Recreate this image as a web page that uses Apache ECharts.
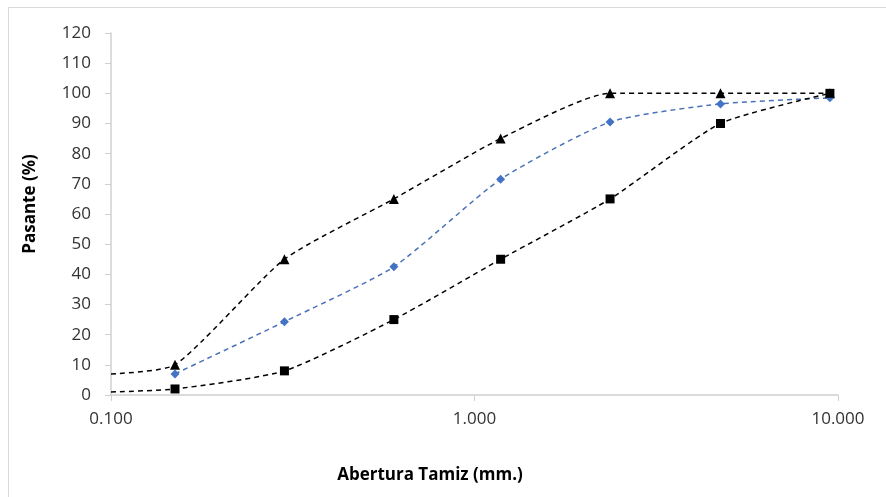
<!DOCTYPE html>
<html>
<head>
<meta charset="utf-8">
<script src="https://cdn.jsdelivr.net/npm/echarts@6/dist/echarts.min.js"></script>
<style>
  html, body { margin: 0; padding: 0; background: #fff; overflow: hidden; }
  #frame { position: absolute; left: 8px; top: 7px; width: 900px; height: 500px; border: 1px solid #d9d9d9; box-sizing: border-box; }
  #chart { position: absolute; left: 0; top: 0; width: 886px; height: 497px; }
</style>
</head>
<body>
<div id="frame"></div>
<div id="chart"></div>
<script>
// tamices (mm) y porcentajes que pasan
const sieves = [0.15, 0.3, 0.6, 1.18, 2.36, 4.75, 9.5]
const upperLimit = [10, 45, 65, 85, 100, 100, 100]
const sample = [7, 24.3, 42.5, 71.5, 90.5, 96.5, 98.5]
const lowerLimit = [2, 8, 25, 45, 65, 90, 100]
// donde las curvas cortan el borde izquierdo (x = 0.1)
const upperEdge = 7
const lowerEdge = 1

function pairs(xs, ys, edge) {
  const out = xs.map((x, i) => [x, ys[i]])
  if (edge !== undefined) out.unshift({ value: [0.1, edge], symbol: 'none' })
  return out
}

const chart = echarts.init(document.getElementById('chart'))
const axisLabel = { color: '#333', fontSize: 17, fontFamily: 'Open Sans' }
const nameFont = { fill: '#000', fontSize: 17, fontWeight: 'bold', fontFamily: 'Open Sans' }
const dashed = (c) => ({ color: c, width: 1.5, type: [5, 4] })

chart.setOption({
  animation: false,
  grid: { left: 111, right: 48, top: 33, bottom: 102 },
  graphic: [
    {
      type: 'text', x: 430, y: 475,
      style: Object.assign({ text: 'Abertura Tamiz (mm.)', align: 'center', verticalAlign: 'middle' }, nameFont)
    },
    {
      type: 'text', x: 30, y: 204, rotation: Math.PI / 2,
      style: Object.assign({ text: 'Pasante (%)', align: 'center', verticalAlign: 'middle' }, nameFont)
    }
  ],
  xAxis: {
    type: 'log',
    logBase: 10,
    min: 0.1,
    max: 10,
    axisLine: { lineStyle: { color: '#d0d0d0', width: 1.5 } },
    axisTick: { show: true, length: 6, lineStyle: { color: '#d0d0d0' } },
    minorTick: { show: false },
    splitLine: { show: false },
    axisLabel: Object.assign({ margin: 16, formatter: v => Number(v).toFixed(3) }, axisLabel)
  },
  yAxis: {
    type: 'value',
    min: 0,
    max: 120,
    interval: 10,
    axisLine: { show: true, lineStyle: { color: '#d0d0d0', width: 1.5 } },
    axisTick: { show: true, length: 6, lineStyle: { color: '#d0d0d0' } },
    splitLine: { show: false },
    axisLabel: Object.assign({ margin: 20 }, axisLabel)
  },
  series: [
    {
      name: 'Límite superior',
      type: 'line',
      smooth: 0.2,
      data: pairs(sieves, upperLimit, upperEdge),
      symbol: 'triangle',
      symbolSize: 10,
      itemStyle: { color: '#000' },
      lineStyle: dashed('#000')
    },
    {
      name: 'Muestra',
      type: 'line',
      smooth: 0.2,
      data: pairs(sieves, sample),
      symbol: 'diamond',
      symbolSize: 9,
      itemStyle: { color: '#4472c4' },
      lineStyle: dashed('#4a72b8')
    },
    {
      name: 'Límite inferior',
      type: 'line',
      smooth: 0.2,
      data: pairs(sieves, lowerLimit, lowerEdge),
      symbol: 'rect',
      symbolSize: 9,
      itemStyle: { color: '#000' },
      lineStyle: dashed('#000')
    }
  ]
})
</script>
</body>
</html>
